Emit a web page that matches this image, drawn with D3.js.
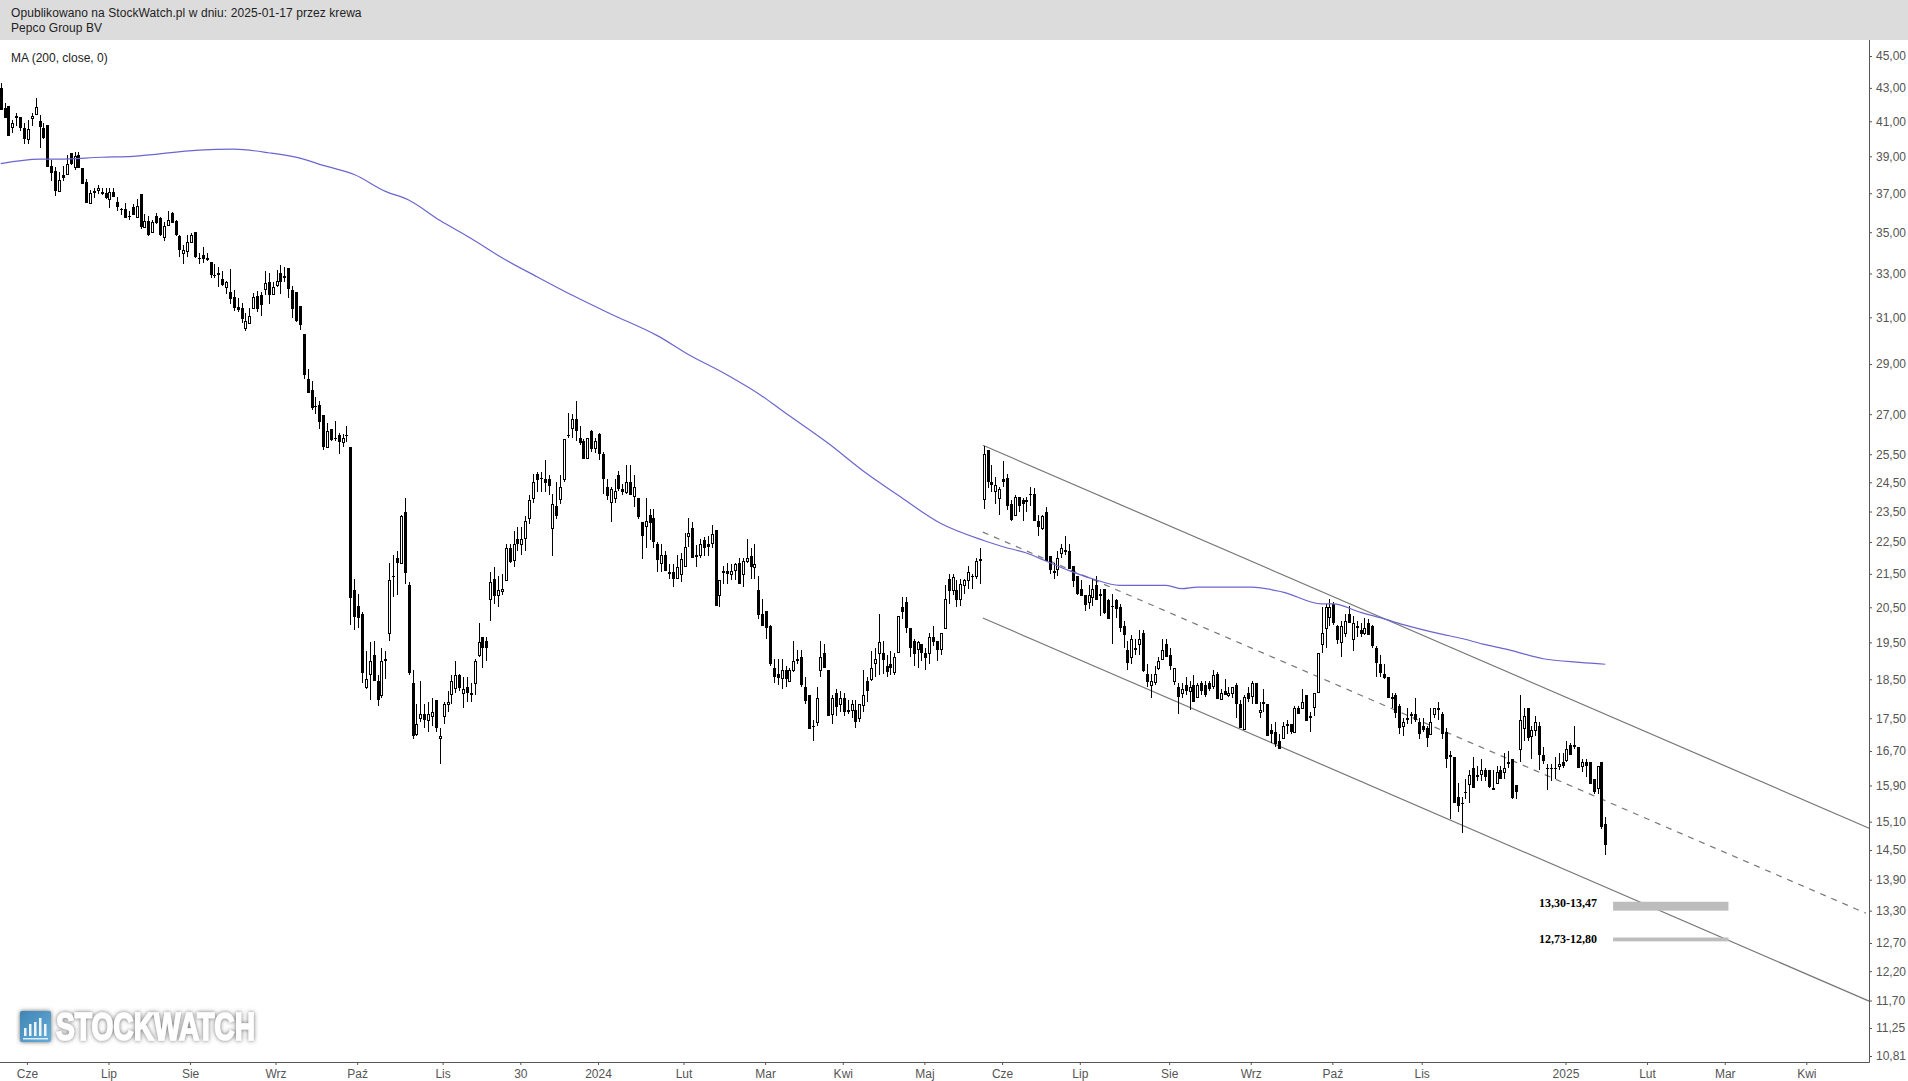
<!DOCTYPE html>
<html><head><meta charset="utf-8">
<script src="https://cdn.jsdelivr.net/npm/d3@7/dist/d3.min.js"></script>
<style>html,body{margin:0;padding:0;background:#fff}svg{display:block}text{font-family:"Liberation Sans",Arial,sans-serif}</style>
</head><body><svg id="c" width="1908" height="1081"></svg>
<script>
const headerLines = ["Opublikowano na StockWatch.pl w dniu: 2025-01-17 przez krewa", "Pepco Group BV"];
const maLabel = "MA (200, close, 0)";
const priceTicks = [45,43,41,39,37,35,33,31,29,27,25.5,24.5,23.5,22.5,21.5,20.5,19.5,18.5,17.5,16.7,15.9,15.1,14.5,13.9,13.3,12.7,12.2,11.7,11.25,10.81];
const timeTickIdx = [7,28,49,71,92,114,134,154,176,197,217,238,258,278,301,322,343,366,403,424,444,465];
const timeTickLabels = ["Cze","Lip","Sie","Wrz","Paź","Lis","30","2024","Lut","Mar","Kwi","Maj","Cze","Lip","Sie","Wrz","Paź","Lis","2025","Lut","Mar","Kwi"];

const direction = "BBBWWBBWWW"+"BBBBBWBWBW"+"BBBWBWBBWB"+"BBBBBWBWBW"+"BBWWBBBWWW"+"BBBBBBBBWB"+"BBBWWWBBWB"+"WWBBBBBBBB"+"BBBBWBBBWB"+"BBBBWWBBWB"+"WBBWBBBWWB"+"WWBWWWWWBW"+"BBWWBBWBWW"+"WBWBWWWWBB"+"BBWBWWBWBB"+"BWBWBBBWWB"+"BWBWBBWBBB"+"WBBBWWWWBB"+"WBBWBWBBWW"+"BWWBWBBBBB"+"BWBWWBBBBB"+"WWBBWBWBBW"+"BWWBWWWBBB"+"WWBBBBWBBW"+"BBWWBWBWWW"+"BWBWBBWWBB"+"BWBBWBBBWB"+"BBWWBBBBBB"+"WWBBBBBBBB"+"BWBWBBWWWW"+"BBWBWBWBWB"+"BBWBWBWWBB"+"WBWBWBBBBB"+"WBBWBWBBWW"+"WWWBBWWBWB"+"BWBBBBBBBB"+"BWBBBBBBWW"+"BBBBBBBBWB"+"BWBBWWBWBB"+"BWWBWWBBBB"+"BWBWBBBWBB"+"BWBB";

const highs = [43.3,42.1,41.9,41.05,41.5,41.25,40.9,41.05,41.5,42.4,
41.35,40.9,40.8,38.8,38.4,38.15,38.45,39.05,39.2,39.25,
39.25,38.35,37.75,37.15,37.3,37.45,37.3,37.3,37.3,37.3,
36.8,36.25,36.5,36.05,36.45,36.7,36.95,35.9,35.8,35.6,
35.95,35.75,35.5,36.05,36.0,35.6,34.85,34.35,34.85,34.95,
35.0,34.0,34.25,34.0,33.55,33.45,33.3,33.1,32.65,33.2,
32.25,31.85,31.65,31.2,31.4,32.1,32.2,32.15,33.1,33.0,
32.6,33.15,33.4,33.3,33.25,32.4,32.15,31.5,30.25,28.8,
28.3,27.65,27.5,26.95,26.65,26.45,26.75,26.3,26.25,26.55,
25.75,21.35,20.9,20.35,19.25,19.5,19.55,18.6,19.35,19.25,
21.85,22.1,22.2,23.4,23.95,21.25,18.75,17.85,18.45,17.85,
17.9,18.0,17.95,17.25,17.9,18.2,18.6,19.0,18.65,18.55,
18.55,18.4,19.05,20.05,19.65,19.65,21.55,21.7,21.45,21.5,
22.45,22.45,22.85,23.0,23.0,23.35,24.05,24.8,24.85,24.85,
25.3,24.75,24.1,24.5,24.75,26.05,27.05,27.0,27.5,26.55,
26.05,26.1,26.4,26.1,26.3,25.6,24.6,24.35,24.6,24.9,
24.45,25.1,25.1,24.75,23.95,23.15,23.95,23.6,23.6,22.5,
22.45,22.2,21.8,21.8,22.1,22.15,22.8,23.3,23.15,22.4,
22.6,22.65,22.7,23.05,22.9,21.3,21.75,21.85,21.8,21.85,
22.0,22.0,22.6,22.3,22.45,21.45,20.75,20.4,20.0,19.05,
19.05,19.05,18.85,18.8,19.55,19.3,19.3,18.55,18.1,17.45,
18.3,19.55,19.45,18.75,18.1,18.25,18.2,18.15,17.95,17.95,
17.95,17.85,18.75,18.55,19.25,19.35,20.3,19.55,19.15,19.25,
19.2,20.25,20.8,20.8,19.9,19.6,19.55,19.45,19.35,19.75,
19.95,19.55,19.75,21.15,21.5,21.5,21.3,21.35,21.35,21.75,
21.5,22.0,22.3,25.8,25.65,25.1,24.7,24.35,25.25,24.8,
23.9,24.05,24.0,23.95,24.0,24.35,24.3,23.4,23.4,23.65,
22.05,21.85,22.2,22.45,22.7,22.45,21.75,21.45,21.3,20.85,
21.15,21.35,21.45,21.05,21.05,20.75,20.9,20.75,20.6,20.1,
19.55,19.7,19.6,19.85,19.85,18.9,18.65,18.85,19.1,19.6,
19.6,19.35,18.8,18.4,18.4,18.55,18.45,18.6,18.4,18.45,
18.45,18.45,18.75,18.7,18.25,18.5,18.3,18.3,18.4,17.95,
18.1,18.3,18.45,18.4,17.9,18.25,17.85,17.35,17.4,17.1,
17.4,17.45,17.35,17.8,17.8,18.25,18.1,17.65,18.15,19.2,
20.5,20.6,20.75,20.65,20.0,20.1,20.3,20.55,20.25,20.1,
20.05,20.2,20.15,20.0,19.4,19.15,18.9,18.55,18.15,18.15,
17.85,17.5,17.75,17.65,18.0,17.5,17.5,17.3,17.75,17.75,
17.9,17.65,17.25,16.7,16.55,15.95,15.65,16.05,16.25,16.55,
16.35,16.5,16.3,16.25,16.25,16.35,16.35,16.65,16.7,16.5,
15.9,18.1,17.75,17.75,17.3,17.55,17.4,16.8,16.4,16.4,
16.55,16.65,16.65,16.95,16.9,17.3,16.8,16.5,16.5,16.45,
16.05,16.35,16.45,15.2];

const bodyHighs = [43.0,41.8,41.9,40.9,41.3,41.25,40.6,40.55,41.3,41.85,
41.0,40.6,40.8,38.45,38.2,37.7,37.95,38.6,39.2,39.0,
39.05,38.35,37.6,37.0,37.1,37.3,37.05,37.0,37.05,37.05,
36.55,36.2,36.2,35.8,36.3,36.35,36.95,35.55,35.55,35.5,
35.8,35.7,35.3,35.6,35.95,35.55,34.8,34.1,34.5,34.85,
35.0,33.75,33.9,33.75,33.55,32.95,33.0,32.75,32.6,32.15,
31.9,31.45,31.4,30.85,31.05,31.9,31.95,32.0,32.55,32.6,
32.35,32.65,33.0,32.9,33.25,32.25,32.15,31.5,30.25,28.4,
27.95,27.3,27.35,26.95,26.35,26.45,26.1,26.2,26.1,26.2,
25.75,21.0,20.55,20.3,18.5,19.0,19.15,18.45,19.0,19.05,
21.3,21.45,22.0,23.35,23.5,21.15,18.4,17.35,17.6,17.6,
17.6,17.65,17.95,17.05,17.85,17.9,18.45,18.6,18.6,18.25,
18.3,18.15,19.0,19.5,19.65,19.55,21.25,21.35,21.0,21.05,
22.3,22.3,22.45,22.6,22.6,23.2,23.9,24.5,24.8,24.65,
24.6,24.6,23.75,23.7,24.35,26.05,26.2,26.8,26.8,26.1,
26.0,26.1,26.35,26.0,26.25,25.5,24.35,24.25,24.2,24.75,
24.25,24.5,24.5,24.35,23.95,23.15,23.2,23.4,23.3,22.45,
22.1,22.1,21.55,21.55,21.7,21.95,22.35,22.8,22.95,22.1,
22.45,22.55,22.45,22.75,22.9,21.3,21.6,21.6,21.6,21.8,
21.85,21.9,22.0,22.05,21.8,21.0,20.3,20.4,19.95,18.8,
18.65,18.75,18.75,18.75,19.0,19.05,19.1,18.3,18.1,17.3,
18.0,19.1,19.2,18.75,18.0,18.15,18.0,18.0,17.7,17.85,
17.7,17.85,18.1,18.45,18.8,19.05,19.5,19.2,18.85,18.9,
19.1,20.25,20.5,20.65,19.9,19.55,19.5,19.45,19.2,19.65,
19.65,19.55,19.75,20.75,21.35,21.4,21.0,21.2,21.3,21.55,
21.45,21.9,21.95,25.5,25.65,24.5,24.4,24.25,24.6,24.65,
23.75,24.0,24.0,23.9,23.9,24.1,24.1,23.2,23.35,23.5,
22.05,21.6,22.0,22.3,22.25,22.2,21.75,21.45,21.05,20.85,
20.85,21.05,21.15,20.9,21.05,20.7,20.55,20.7,20.5,19.95,
19.3,19.6,19.35,19.6,19.75,18.65,18.45,18.65,19.0,19.3,
19.45,19.15,18.8,18.3,18.25,18.35,18.3,18.35,18.35,18.4,
18.35,18.4,18.6,18.65,18.15,18.2,18.15,18.3,18.35,17.85,
18.05,18.15,18.4,18.4,17.7,17.9,17.85,17.2,17.15,16.95,
17.3,17.35,17.35,17.75,17.75,17.9,18.1,17.55,18.15,19.2,
19.75,20.5,20.5,20.6,19.95,19.95,20.1,20.3,20.05,19.95,
19.85,19.9,20.05,19.95,19.35,18.9,18.65,18.55,18.05,18.1,
17.8,17.4,17.5,17.6,17.6,17.4,17.3,17.25,17.4,17.75,
17.75,17.6,17.15,16.6,16.55,15.65,15.5,15.75,16.15,16.3,
16.15,16.25,16.25,16.25,15.85,16.2,16.25,16.3,16.45,16.5,
15.9,17.45,17.55,17.75,17.2,17.4,17.3,16.6,16.3,16.3,
16.3,16.4,16.45,16.75,16.85,16.85,16.8,16.45,16.45,16.45,
16.05,16.35,16.45,15.05];

const bodyLows = [41.7,41.2,40.15,40.65,41.25,40.6,39.95,40.0,41.2,41.45,
40.65,40.0,38.45,38.05,37.1,37.1,37.8,38.05,38.6,38.4,
38.35,37.5,36.5,36.5,37.0,37.2,36.95,36.75,36.7,36.8,
36.3,36.15,35.75,35.75,35.9,35.8,35.25,35.25,34.85,35.0,
35.45,34.85,34.75,35.35,35.45,34.85,34.1,33.95,34.05,34.5,
33.75,33.75,33.7,33.65,32.95,32.9,32.9,32.45,32.35,31.85,
31.4,31.3,30.9,30.55,30.75,31.4,31.35,31.55,32.25,32.0,
32.05,32.45,32.6,32.8,32.25,31.4,30.85,30.65,28.55,27.85,
27.25,27.25,26.7,25.75,25.75,26.05,26.05,25.95,25.95,26.2,
20.75,20.2,20.2,18.65,18.3,18.65,18.45,17.95,18.1,19.0,
19.75,21.45,21.85,21.85,21.55,18.65,17.05,17.1,17.5,17.45,
17.45,17.55,17.25,17.0,17.55,17.85,18.1,18.25,18.25,18.15,
18.15,18.1,18.4,19.15,19.35,19.35,20.75,20.85,20.85,21.0,
21.3,21.85,21.95,22.45,22.45,22.65,23.3,23.95,24.6,24.6,
24.45,24.35,22.95,23.35,23.95,24.6,26.15,26.45,26.35,25.9,
25.35,25.35,25.7,25.75,25.5,24.6,24.05,23.8,23.95,24.25,
24.15,24.15,24.05,24.05,23.3,22.7,23.05,23.15,22.5,21.95,
21.85,21.6,21.5,21.35,21.35,21.5,21.75,22.7,22.0,22.05,
22.1,22.3,22.35,22.45,20.55,20.85,21.55,21.5,21.5,21.6,
21.2,21.5,21.9,21.7,21.7,20.25,19.95,19.9,18.9,18.55,
18.55,18.55,18.5,18.45,18.75,19.0,18.35,17.95,17.25,17.3,
17.4,18.75,18.8,17.55,17.6,17.8,17.85,17.65,17.65,17.7,
17.4,17.5,17.85,18.2,18.5,18.95,19.2,19.0,18.7,18.8,
18.7,19.25,20.35,19.9,19.35,19.2,19.3,19.2,19.05,19.2,
19.5,19.3,19.3,19.9,21.0,21.0,20.7,20.75,21.15,21.3,
21.45,21.45,21.9,23.9,24.5,24.4,24.2,23.95,24.5,23.7,
23.2,23.4,23.7,23.75,23.85,24.05,23.2,23.0,22.95,21.9,
21.6,21.55,21.65,22.15,22.2,21.65,21.3,20.9,20.85,20.55,
20.65,20.8,20.7,20.85,20.35,20.15,20.55,20.45,19.9,19.7,
18.95,19.1,19.3,19.45,18.7,18.45,18.35,18.45,18.8,19.05,
19.1,18.85,18.45,18.05,18.15,18.2,18.2,17.9,18.05,18.2,
18.1,18.25,18.3,18.0,18.0,18.1,18.1,18.15,17.85,17.25,
17.25,18.0,18.05,17.85,17.65,17.85,17.05,17.1,16.85,16.75,
17.0,17.3,17.15,17.15,17.6,17.75,17.45,17.5,17.8,18.15,
19.45,19.9,20.2,20.05,19.55,19.5,19.75,20.05,19.6,19.9,
19.75,19.75,19.7,19.4,18.95,18.65,18.55,18.0,18.0,17.65,
17.25,17.3,17.45,17.55,17.45,17.1,17.2,17.0,17.1,17.6,
17.7,17.1,16.5,16.55,15.5,15.45,15.5,15.75,15.95,15.85,
16.1,16.15,16.1,15.85,15.85,15.95,16.05,16.2,16.4,15.6,
15.75,16.75,17.25,17.0,17.05,17.2,16.6,16.45,16.3,16.3,
16.3,16.35,16.35,16.5,16.6,16.8,16.3,16.35,16.35,15.95,
15.75,15.85,15.0,14.6];

const lows = [41.65,41.2,40.15,40.3,40.7,40.45,39.7,39.7,40.7,41.4,
39.45,40.0,38.45,37.65,36.85,37.05,37.65,38.05,38.5,38.25,
38.35,37.5,36.5,36.5,36.75,36.95,36.9,36.7,36.25,36.8,
36.05,35.85,35.75,35.6,35.85,35.8,35.15,35.25,34.8,34.95,
35.4,34.8,34.55,35.35,35.45,34.8,33.8,33.45,33.8,34.45,
33.75,33.45,33.5,33.6,32.8,32.8,32.35,32.4,32.05,31.6,
31.3,31.25,30.75,30.4,30.75,31.4,31.25,31.05,32.0,31.6,
32.05,32.35,32.05,32.6,31.85,30.95,30.8,30.45,28.4,27.85,
27.15,27.0,26.45,25.65,25.75,26.0,26.0,25.5,25.75,25.95,
20.0,19.85,19.9,18.4,18.25,17.95,18.45,17.8,18.0,18.5,
19.55,20.8,20.85,21.85,21.2,18.6,17.0,17.05,17.4,17.25,
17.15,17.3,17.15,16.4,17.35,17.65,17.85,18.15,18.2,17.75,
17.9,17.9,18.1,19.1,18.8,19.0,20.1,20.6,20.5,20.85,
21.3,21.85,21.7,22.2,22.1,22.2,23.1,23.8,24.15,24.15,
24.15,24.05,22.05,23.25,23.75,24.5,26.1,26.1,26.0,25.85,
25.35,25.35,25.6,25.55,25.3,24.1,23.9,23.15,23.8,24.2,
24.05,24.1,24.05,23.65,23.25,21.95,22.3,22.55,22.3,21.55,
21.55,21.6,21.35,21.1,21.35,21.25,21.75,22.35,22.0,21.7,
22.0,22.05,22.05,22.3,20.55,20.5,21.2,21.2,21.3,21.3,
21.2,21.1,21.85,21.35,21.35,20.15,19.95,19.6,18.85,18.4,
18.35,18.25,18.3,18.45,18.7,18.9,18.3,17.85,17.25,16.95,
17.3,18.55,18.8,17.55,17.35,17.55,17.65,17.55,17.6,17.5,
17.25,17.4,17.65,17.9,18.45,18.55,18.6,18.65,18.55,18.6,
18.6,19.25,20.15,19.75,19.1,18.85,18.8,19.0,18.75,18.9,
19.4,19.0,19.15,19.9,20.6,20.85,20.5,20.55,20.9,21.05,
21.05,21.35,21.2,23.6,24.3,24.15,23.75,23.4,24.35,23.55,
23.2,23.35,23.5,23.2,23.5,23.7,23.2,22.7,22.9,21.9,
21.5,21.35,21.45,22.0,22.1,21.65,21.1,20.85,20.85,20.4,
20.45,20.55,20.7,20.25,20.3,20.15,19.45,20.2,19.8,19.35,
18.75,18.9,19.15,19.15,18.7,18.3,18.0,18.35,18.75,19.05,
19.1,18.75,18.35,17.6,18.0,18.1,17.7,17.9,18.0,18.1,
18.05,18.2,18.25,18.0,17.95,18.1,18.05,18.0,17.5,17.25,
17.25,17.9,17.85,17.85,17.5,17.65,17.05,16.9,16.8,16.75,
17.0,17.1,17.1,17.15,17.6,17.75,17.45,17.15,17.55,18.15,
19.2,19.35,19.95,20.0,19.45,19.1,19.65,20.05,19.25,19.65,
19.65,19.7,19.7,19.35,18.55,18.55,18.5,18.0,17.75,17.5,
17.1,17.05,17.35,17.35,17.4,17.0,17.15,16.8,17.1,17.5,
17.45,17.0,16.3,15.15,15.5,15.3,14.85,15.6,15.5,15.85,
16.0,16.0,16.0,15.85,15.85,15.95,16.05,16.05,16.3,15.6,
15.6,16.45,16.95,16.95,16.5,17.05,16.25,16.4,15.8,16.0,
16.05,16.25,16.3,16.45,16.6,16.75,16.3,16.2,16.1,15.95,
15.7,15.7,14.95,14.4];

const maIdx = [0,10,15,26,34,51,60,69,77,83,91,99,105,113,121,129,138,147,157,169,177,187,196,201,213,222,231,242,253,258,264,269,275,281,288,300,304,308,322,330,340,343,350,355,361,370,376.4,381.5,388,397,406.5,413];
const maValues = [38.6,38.85,38.85,38.95,39.0,39.35,39.4,39.2,38.9,38.5,38.0,37.1,36.65,35.6,34.7,33.75,32.85,32.0,31.15,30.2,29.4,28.55,27.7,27.15,25.9,24.9,24.05,23.1,22.55,22.35,22.15,21.9,21.6,21.35,21.15,21.15,21.05,21.1,21.1,20.95,20.6,20.6,20.35,20.2,20.0,19.75,19.6,19.45,19.3,19.05,18.95,18.9];

const channelStartIdx = 252.8;
const upperChannel = [25.83, 14.96], middleChannel = [22.82, 13.25], lowerChannel = [20.19, 11.69];
const channelEndIdx = [480.9, 480.1, 480.9];

const zoneLabels = ["13,30-13,47","12,73-12,80"];
const zoneLow = [13.30,12.73], zoneHigh = [13.47,12.80];
const zoneStartIdx = 415, zoneEndIdx = 444.7;

const axisX = 1869, axisBottom = 1062, headerH = 40;
const svg = d3.select("#c");
const x = d3.scaleLinear().domain([0,413]).range([0.7,1605.3]);
const y = d3.scaleLog().domain([45,10.81]).range([56,1056]);
const px = i => Math.round(x(i));

// header
svg.append("rect").attr("width",1908).attr("height",headerH).attr("fill","#dcdcdc");
svg.selectAll("text.h").data(headerLines).join("text").attr("class","h")
  .attr("x",11).attr("y",(d,i)=>17+i*15).attr("font-size",12).attr("letter-spacing",0.07).attr("fill","#222").text(d=>d);
svg.append("text").attr("x",11).attr("y",62).attr("font-size",12).attr("fill","#222").text(maLabel);

// logo
const defs = svg.append("defs");
const f = defs.append("filter").attr("id","sh").attr("x","-10%").attr("y","-30%").attr("width","120%").attr("height","160%");
f.append("feDropShadow").attr("dx",0).attr("dy",0).attr("stdDeviation",2).attr("flood-color","#555").attr("flood-opacity",0.9);
const g0 = defs.append("linearGradient").attr("id","lg").attr("x1",0).attr("y1",0).attr("x2",1).attr("y2",1);
g0.append("stop").attr("offset",0).attr("stop-color","#3f85b5");
g0.append("stop").attr("offset",1).attr("stop-color","#68aeda");
const logo = svg.append("g");
logo.append("rect").attr("x",20).attr("y",1011).attr("width",31).attr("height",31).attr("rx",2).attr("fill","url(#lg)").attr("filter","url(#sh)");
[[24,1028,9],[29,1024,13],[34,1022,15],[39,1018,19],[44,1024,13]].forEach(b=>{
  logo.append("rect").attr("x",b[0]).attr("y",b[1]).attr("width",2.5).attr("height",b[2]-1).attr("fill","#fff").attr("opacity",.9);
});
logo.append("rect").attr("x",23).attr("y",1038).attr("width",25).attr("height",1.5).attr("fill","#fff").attr("opacity",.8);
logo.append("text").attr("x",56).attr("y",1040).attr("font-size",38).attr("font-weight","bold")
  .attr("textLength",199).attr("lengthAdjust","spacingAndGlyphs").attr("fill","#fff")
  .attr("stroke","#fff").attr("stroke-width",1.6).attr("filter","url(#sh)").text("STOCKWATCH");

// channel lines
const channels = [upperChannel, middleChannel, lowerChannel];
svg.selectAll("line.ch").data(channels).join("line").attr("class","ch")
  .attr("x1",x(channelStartIdx)).attr("y1",d=>y(d[0]))
  .attr("x2",(d,i)=>x(channelEndIdx[i])).attr("y2",d=>y(d[1]))
  .attr("stroke","#777").attr("stroke-width",1.2)
  .attr("stroke-dasharray",(d,i)=>i===1?"6,6":null);

// zones
svg.selectAll("rect.z").data(zoneLabels).join("rect").attr("class","z")
  .attr("x",x(zoneStartIdx)).attr("width",x(zoneEndIdx)-x(zoneStartIdx))
  .attr("y",(d,i)=>y(zoneHigh[i])).attr("height",(d,i)=>y(zoneLow[i])-y(zoneHigh[i]))
  .attr("fill","#bdbdbd");
svg.selectAll("text.z").data(zoneLabels).join("text").attr("class","z")
  .attr("x",1539).attr("y",(d,i)=>y(zoneHigh[i])+5.5)
  .attr("font-size",12.5).attr("font-weight","bold").attr("fill","#000")
  .attr("textLength",58).attr("lengthAdjust","spacingAndGlyphs")
  .style("font-family","'Liberation Serif','Times New Roman',serif").text(d=>d);

// candles
const candles = d3.range(highs.length);
const cg = svg.append("g").attr("shape-rendering","crispEdges");
cg.selectAll("line").data(candles).join("line")
  .attr("x1",i=>px(i)+.5).attr("x2",i=>px(i)+.5)
  .attr("y1",i=>y(highs[i])).attr("y2",i=>y(lows[i]))
  .attr("stroke","#000").attr("stroke-width",1);
cg.selectAll("rect").data(candles).join("rect")
  .attr("x",i=>direction[i]==="B"?px(i)-1:px(i)-.5)
  .attr("width",i=>direction[i]==="B"?3:2)
  .attr("y",i=>Math.round(y(bodyHighs[i]))+(direction[i]==="B"?0:.5))
  .attr("height",i=>Math.max(1,Math.round(y(bodyLows[i])-y(bodyHighs[i]))))
  .attr("fill",i=>direction[i]==="B"?"#000":"#fff")
  .attr("stroke",i=>direction[i]==="B"?"none":"#000").attr("stroke-width",1);

// moving average
svg.append("path").datum(maIdx).attr("fill","none").attr("stroke","#6a66cf").attr("stroke-width",1.2)
  .attr("d",d3.line().x(i=>x(i)).y((i,k)=>y(maValues[k])).curve(d3.curveMonotoneX));

// axes
const fmt = d=>d.toFixed(2).replace(".",",");
const axR = svg.append("g").attr("transform",`translate(${axisX},0)`)
  .call(d3.axisRight(y).tickValues(priceTicks).tickFormat(fmt).tickSize(3).tickPadding(4));
axR.select(".domain").remove();
axR.selectAll("line").attr("stroke","#555");
axR.selectAll("text").attr("font-size",12).attr("fill","#555").style("font-family","'Liberation Sans',Arial,sans-serif");
const axB = svg.append("g").attr("transform",`translate(-1,${axisBottom})`)
  .call(d3.axisBottom(x).tickValues(timeTickIdx).tickFormat((d,i)=>timeTickLabels[i]).tickSize(3).tickPadding(4));
axB.select(".domain").remove();
axB.selectAll("line").attr("stroke","#555");
axB.selectAll("text").attr("font-size",12).attr("fill","#555").style("font-family","'Liberation Sans',Arial,sans-serif");
svg.append("line").attr("x1",axisX+.5).attr("x2",axisX+.5).attr("y1",headerH).attr("y2",axisBottom+.5).attr("stroke","#555");
svg.append("line").attr("x1",0).attr("x2",axisX+.5).attr("y1",axisBottom+.5).attr("y2",axisBottom+.5).attr("stroke","#555");
</script></body></html>
